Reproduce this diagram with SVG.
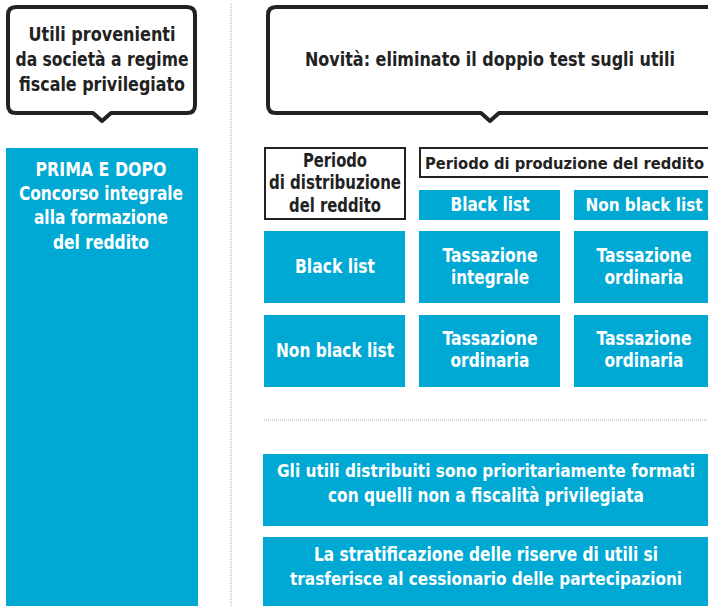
<svg xmlns="http://www.w3.org/2000/svg" width="708" height="606" viewBox="0 0 708 606">
<style>
.bubble{fill:#fff;stroke:#222;stroke-width:4;stroke-linejoin:round}
.frame{fill:#fff;stroke:#222;stroke-width:2}
.blue{fill:#00a9d4}
text{font-family:"DejaVu Sans Condensed","DejaVu Sans",sans-serif;font-weight:bold;text-anchor:middle}
.dk{fill:#222;font-size:19px}
.wt{fill:#fff;font-size:19px}
.sm{font-size:17px}
.sep{stroke:#aaa;stroke-width:1;stroke-dasharray:1 1;fill:none}
</style>
<rect width="708" height="606" fill="#fff"/>
<g id="connectors">
<line class="sep" x1="231" y1="3" x2="231" y2="606"/>
<line class="sep" x1="264" y1="420" x2="708" y2="420"/>
</g>
<g id="left-bubble">
<path class="bubble" d="M16,7 H187 Q195,7 195,15 V105 Q195,113 187,113 H111 L102,121 L93,113 H16 Q8,113 8,105 V15 Q8,7 16,7 Z"/>
<text class="dk" x="102" y="41" textLength="147" lengthAdjust="spacingAndGlyphs">Utili provenienti</text>
<text class="dk" x="102" y="66" textLength="173" lengthAdjust="spacingAndGlyphs">da società a regime</text>
<text class="dk" x="102" y="91" textLength="166" lengthAdjust="spacingAndGlyphs">fiscale privilegiato</text>
</g>
<g id="left-column">
<rect class="blue" x="6" y="148" width="192" height="458"/>
<text class="wt" x="101" y="176" textLength="131" lengthAdjust="spacingAndGlyphs">PRIMA E DOPO</text>
<text class="wt" x="101" y="200" textLength="164" lengthAdjust="spacingAndGlyphs">Concorso integrale</text>
<text class="wt" x="101" y="224" textLength="134" lengthAdjust="spacingAndGlyphs">alla formazione</text>
<text class="wt" x="101" y="249" textLength="96" lengthAdjust="spacingAndGlyphs">del reddito</text>
</g>
<g id="right-bubble">
<path class="bubble" d="M276,7 H730 V113 H499 L490,121 L481,113 H276 Q268,113 268,105 V15 Q268,7 276,7 Z"/>
<text class="dk" x="490" y="66" textLength="370" lengthAdjust="spacingAndGlyphs">Novità: eliminato il doppio test sugli utili</text>
</g>
<g id="distribution-header">
<rect class="frame" x="265" y="148" width="140" height="71"/>
<text class="dk" x="335" y="167" textLength="64" lengthAdjust="spacingAndGlyphs">Periodo</text>
<text class="dk" x="335" y="189" textLength="132" lengthAdjust="spacingAndGlyphs">di distribuzione</text>
<text class="dk" x="335" y="212" textLength="92" lengthAdjust="spacingAndGlyphs">del reddito</text>
</g>
<g id="production-header">
<rect class="frame" x="420" y="148" width="300" height="29"/>
<text class="dk" x="425" y="169" style="text-anchor:start;font-size:16.5px" textLength="279" lengthAdjust="spacingAndGlyphs">Periodo di produzione del reddito</text>
</g>
<g id="col-black">
<rect class="blue" x="419" y="190" width="141" height="30"/>
<text class="wt" x="490" y="211" textLength="79" lengthAdjust="spacingAndGlyphs">Black list</text>
</g>
<g id="col-nonblack">
<rect class="blue" x="574" y="190" width="134" height="30"/>
<text class="wt sm" x="644" y="211" textLength="117" lengthAdjust="spacingAndGlyphs">Non black list</text>
</g>
<g id="row-black">
<rect class="blue" x="264" y="231" width="141" height="72"/>
<text class="wt" x="335" y="273" textLength="80" lengthAdjust="spacingAndGlyphs">Black list</text>
</g>
<g id="cell-bb">
<rect class="blue" x="419" y="231" width="141" height="72"/>
<text class="wt" x="490" y="262" textLength="95" lengthAdjust="spacingAndGlyphs">Tassazione</text>
<text class="wt" x="490" y="284" textLength="78" lengthAdjust="spacingAndGlyphs">integrale</text>
</g>
<g id="cell-bn">
<rect class="blue" x="574" y="231" width="134" height="72"/>
<text class="wt" x="644" y="262" textLength="95" lengthAdjust="spacingAndGlyphs">Tassazione</text>
<text class="wt" x="644" y="284" textLength="79" lengthAdjust="spacingAndGlyphs">ordinaria</text>
</g>
<g id="row-nonblack">
<rect class="blue" x="264" y="315" width="141" height="72"/>
<text class="wt" x="335" y="357" textLength="118" lengthAdjust="spacingAndGlyphs">Non black list</text>
</g>
<g id="cell-nb">
<rect class="blue" x="419" y="315" width="141" height="72"/>
<text class="wt" x="490" y="345" textLength="95" lengthAdjust="spacingAndGlyphs">Tassazione</text>
<text class="wt" x="490" y="367" textLength="79" lengthAdjust="spacingAndGlyphs">ordinaria</text>
</g>
<g id="cell-nn">
<rect class="blue" x="574" y="315" width="134" height="72"/>
<text class="wt" x="644" y="345" textLength="95" lengthAdjust="spacingAndGlyphs">Tassazione</text>
<text class="wt" x="644" y="367" textLength="79" lengthAdjust="spacingAndGlyphs">ordinaria</text>
</g>
<g id="note-1">
<rect class="blue" x="263" y="454" width="445" height="72"/>
<text class="wt sm" x="486" y="477" textLength="418" lengthAdjust="spacingAndGlyphs">Gli utili distribuiti sono prioritariamente formati</text>
<text class="wt" x="486" y="502" textLength="316" lengthAdjust="spacingAndGlyphs">con quelli non a fiscalità privilegiata</text>
</g>
<g id="note-2">
<rect class="blue" x="263" y="537" width="445" height="69"/>
<text class="wt" x="486" y="561" textLength="344" lengthAdjust="spacingAndGlyphs">La stratificazione delle riserve di utili si</text>
<text class="wt sm" x="486" y="585" textLength="392" lengthAdjust="spacingAndGlyphs">trasferisce al cessionario delle partecipazioni</text>
</g>
</svg>
